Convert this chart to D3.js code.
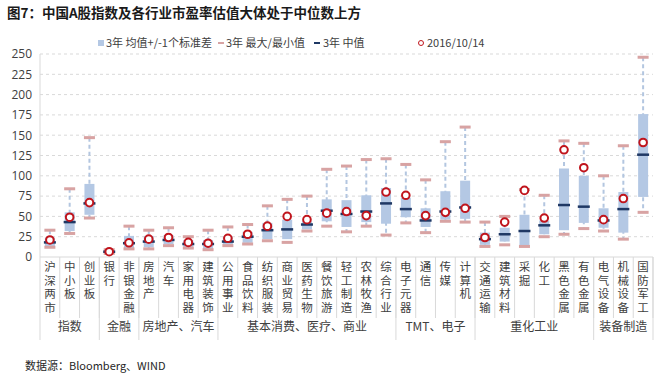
<!DOCTYPE html>
<html>
<head>
<meta charset="utf-8">
<script src="https://cdn.jsdelivr.net/npm/d3@7"></script>
<style>
  body { margin: 0; background: #fff; }
  svg { font-family: "Noto Sans CJK SC", "Noto Sans", sans-serif; }
</style>
</head>
<body>
<svg width="661" height="375"></svg>
<script>
let categories = ["沪深两市", "中小板", "创业板", "银行", "非银金融", "房地产", "汽车", "家用电器", "建筑装饰",
  "公用事业", "食品饮料", "纺织服装", "商业贸易", "医药生物", "餐饮旅游", "轻工制造", "农林牧渔", "综合行业",
  "电子元器", "通信", "传媒", "计算机", "交通运输", "建筑材料", "采掘", "化工", "黑色金属", "有色金属",
  "电气设备", "机械设备", "国防军工"];
let groupNames = ["指数", "金融", "房地产、汽车", "基本消费、医疗、商业", "TMT、电子", "重化工业", "装备制造"];
let groupSizes = [3, 2, 4, 9, 4, 6, 3];

// 3年 最大/最小值
let maxVals = [33, 84, 147, 9, 38, 33, 36, 25, 33, 37, 40, 63, 71, 75, 108, 112, 120, 121, 114, 95, 142, 160, 43, 50, 83, 76, 143, 140, 100, 137, 246];
let minVals = [12, 29, 48, 4.5, 10, 10, 14, 11, 9, 14, 16, 20, 18, 32, 38, 31, 38, 27, 42, 30, 44, 43, 13, 15, 13, 25, 28, 35, 32, 22, 55];
// 3年 均值+/-1个标准差
let upperVals = [24, 55, 90, 7.5, 26, 26, 27, 21, 21, 25, 31, 42, 46, 44, 71, 70, 76, 85, 73, 60, 81, 94, 30, 36, 52, 45, 109, 100, 60, 80, 176];
let lowerVals = [13, 32, 52, 5.5, 11, 12, 16, 12, 10, 15, 17.5, 22, 22, 34, 44, 37, 43, 41, 49, 37, 46, 47, 15, 19, 14, 28, 33, 42, 36, 30, 74];
// 3年 中值
let medianVals = [18, 43, 66, 6.5, 17, 19, 21, 16, 16, 19, 25, 33, 34, 40, 57, 53, 56, 66, 59, 45, 56, 61, 22, 28, 32, 39, 64, 62, 45, 59, 126];
// 2016/10/14
let currentVals = [21, 49, 67, 6.5, 17.5, 22, 24, 18, 17, 23, 28, 38, 50, 46, 54, 56, 51, 80, 76, 51, 55, 60, 24, 43, 82, 48, 132, 110, 46, 72, 141];
let yTicks = [0, 25, 50, 75, 100, 125, 150, 175, 200, 225, 250];

let svg = d3.select("svg");
let plotLeft = 40, plotRight = 653, plotTop = 54, plotBottom = 257;

let xScale = d3.scaleBand().domain(categories).range([plotLeft, plotRight]).padding(0);
let yScale = d3.scaleLinear().domain([0, 250]).range([plotBottom, plotTop]);
let bw = 10;
let mid = d => xScale(d) + xScale.bandwidth() / 2;

// title
svg.append("text")
  .attr("x", 7).attr("y", 18)
  .style("font-size", "13.5px").style("font-weight", "bold").style("fill", "#1a1a1a")
  .text("图7：中国A股指数及各行业市盈率估值大体处于中位数上方");

// gridlines
svg.append("g")
  .selectAll("line")
  .data(yTicks.slice(1))
  .enter()
  .append("line")
  .attr("x1", plotLeft).attr("x2", plotRight)
  .attr("y1", d => yScale(d)).attr("y2", d => yScale(d))
  .style("stroke", "#d9d9d9").style("stroke-dasharray", "3,3");

// y axis
let yAxis = svg.append("g")
  .attr("transform", "translate(" + plotLeft + ",0)")
  .call(d3.axisLeft(yScale).tickValues(yTicks).tickSize(0).tickPadding(8));
yAxis.select(".domain").remove();
yAxis.selectAll("text").style("font-size", "12px").style("fill", "#404040")
  .style("font-family", "'Open Sans', 'Noto Sans', sans-serif");

svg.append("line")
  .attr("x1", plotLeft).attr("x2", plotLeft).attr("y1", plotTop).attr("y2", 340)
  .style("stroke", "#d9d9d9");
svg.append("line")
  .attr("x1", plotLeft).attr("x2", plotRight).attr("y1", plotBottom).attr("y2", plotBottom)
  .style("stroke", "#d9d9d9");

// category separators
svg.append("g")
  .selectAll("line")
  .data(categories)
  .enter()
  .append("line")
  .attr("x1", d => xScale(d) + xScale.bandwidth()).attr("x2", d => xScale(d) + xScale.bandwidth())
  .attr("y1", plotBottom).attr("y2", 318)
  .style("stroke", "#d9d9d9");

// category labels, written top to bottom
svg.append("g")
  .selectAll("text")
  .data(categories)
  .enter()
  .append("text")
  .attr("x", mid)
  .attr("y", 261)
  .style("writing-mode", "vertical-rl")
  .style("text-orientation", "upright")
  .style("letter-spacing", "2px")
  .style("font-size", "11.5px").style("fill", "#404040")
  .text(d => d);

// group labels and separators
let start = 0;
for (var g = 0; g < groupNames.length; g++) {
  let x0 = xScale(categories[start]);
  let x1 = xScale(categories[start + groupSizes[g] - 1]) + xScale.bandwidth();
  svg.append("line")
    .attr("x1", x1).attr("x2", x1).attr("y1", plotBottom).attr("y2", 340)
    .style("stroke", "#d9d9d9");
  svg.append("text")
    .attr("x", (x0 + x1) / 2).attr("y", 331)
    .attr("text-anchor", "middle")
    .style("font-size", "12px").style("fill", "#404040")
    .text(groupNames[g]);
  start += groupSizes[g];
}

// whiskers
svg.append("g")
  .selectAll("line")
  .data(categories)
  .enter()
  .append("line")
  .attr("x1", mid)
  .attr("x2", mid)
  .attr("y1", (d, i) => yScale(maxVals[i]))
  .attr("y2", (d, i) => yScale(minVals[i]))
  .style("stroke", "#b3c6e0").style("stroke-width", 2).style("stroke-dasharray", "4,3");

// boxes
svg.append("g")
  .selectAll("rect")
  .data(categories)
  .enter()
  .append("rect")
  .attr("x", d => mid(d) - bw / 2)
  .attr("y", (d, i) => yScale(upperVals[i]))
  .attr("width", bw)
  .attr("height", (d, i) => yScale(lowerVals[i]) - yScale(upperVals[i]))
  .style("fill", "#b4c8e4");

// max / min caps
[maxVals, minVals].forEach(function (vals) {
  svg.append("g")
    .selectAll("rect")
    .data(categories)
    .enter()
    .append("rect")
    .attr("x", d => mid(d) - 5.5)
    .attr("y", (d, i) => yScale(vals[i]) - 1.5)
    .attr("width", 11).attr("height", 3)
    .style("fill", "#d8a3a3");
});

// medians
svg.append("g")
  .selectAll("rect")
  .data(categories)
  .enter()
  .append("rect")
  .attr("x", d => mid(d) - 6)
  .attr("y", (d, i) => yScale(medianVals[i]) - 1.25)
  .attr("width", 12).attr("height", 2.5)
  .style("fill", "#1f3864");

// current values
svg.append("g")
  .selectAll("circle")
  .data(categories)
  .enter()
  .append("circle")
  .attr("cx", mid)
  .attr("cy", (d, i) => yScale(currentVals[i]))
  .attr("r", 3.8)
  .style("fill", "#fff").style("stroke", "#c0141c").style("stroke-width", 2);

// legend
let lg = svg.append("g").style("font-size", "11px").style("fill", "#404040");
lg.append("rect").attr("x", 98).attr("y", 40).attr("width", 6).attr("height", 6).style("fill", "#b4c8e4");
lg.append("text").attr("x", 106).attr("y", 47).text("3年 均值+/-1个标准差");
lg.append("rect").attr("x", 218).attr("y", 42).attr("width", 6).attr("height", 2).style("fill", "#d8a3a3");
lg.append("text").attr("x", 226).attr("y", 47).text("3年 最大/最小值");
lg.append("rect").attr("x", 314).attr("y", 42).attr("width", 6).attr("height", 2).style("fill", "#1f3864");
lg.append("text").attr("x", 323).attr("y", 47).text("3年 中值");
lg.append("circle").attr("cx", 421).attr("cy", 43).attr("r", 2.5)
  .style("fill", "#fff").style("stroke", "#c0141c").style("stroke-width", 1);
lg.append("text").attr("x", 427).attr("y", 47).text("2016/10/14");

// source
svg.append("text")
  .attr("x", 25).attr("y", 370)
  .style("font-size", "11px").style("fill", "#262626")
  .text("数据源：Bloomberg、WIND");
</script>
</body>
</html>
